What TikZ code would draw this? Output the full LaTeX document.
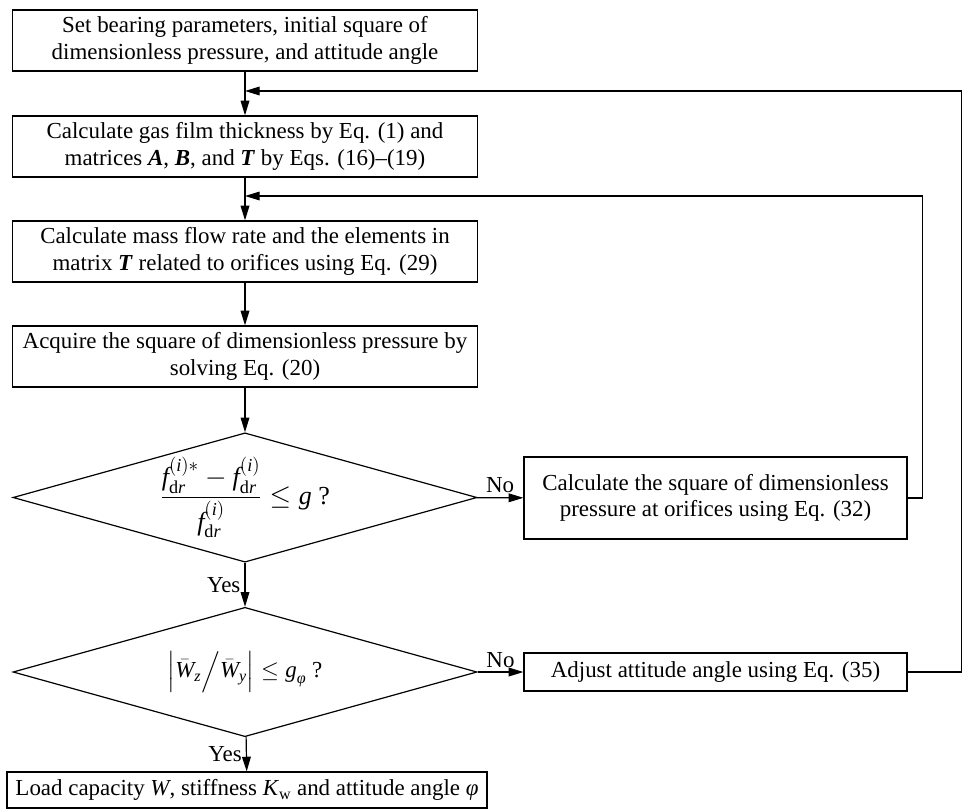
\documentclass[tikz,border=0pt]{standalone}
\usepackage{amsmath}
\usepackage{fontspec}
\setmainfont{Liberation Serif}
\usepackage{tikz}
\usetikzlibrary{arrows.meta,shapes.geometric,positioning,calc}
\tikzset{
  fcbase/.style={draw,line width=0.9pt,align=center,inner sep=2pt,
      font=\fontsize{17.2}{20}\selectfont},
  procbox/.style={fcbase,minimum width=348.75pt,minimum height=45.75pt},
  sidebox/.style={fcbase,minimum width=287.25pt},
  testbox/.style={fcbase,shape=diamond,inner sep=0pt,aspect=3.6,
      minimum width=348pt,minimum height=97pt},
  flow/.style={-{Triangle[length=11pt,width=6.5pt]},line width=0.9pt},
  yeslab/.style={left=2pt,font=\fontsize{17.2}{20}\selectfont,inner sep=1pt},
  nolab/.style={above=2pt,font=\fontsize{17.2}{20}\selectfont,inner sep=1pt},
}
\newcommand{\mvec}[1]{\textbf{\textit{#1}}}
\newcommand{\tv}[1]{\text{\itshape #1}}
\newcommand{\fdr}{\tv{f}_{\text{d}\tv{r}}}
\begin{document}
\begin{tikzpicture}[x=0.75pt,y=-0.75pt]
  \useasboundingbox (0,0) rectangle (962,810);

  \node[procbox] (set) at (245,40.5)
    {Set bearing parameters, initial square of\\dimensionless pressure, and attitude angle};
  \node[procbox] (film) at (245,146.5)
    {Calculate gas film thickness by Eq. (1) and\\matrices \mvec{A}, \mvec{B}, and \mvec{T} by Eqs. (16)--(19)};
  \node[procbox] (mass) at (245,251.5)
    {Calculate mass flow rate and the elements in\\matrix \mvec{T} related to orifices using Eq. (29)};
  \node[procbox] (solve) at (245,356.5)
    {Acquire the square of dimensionless pressure by\\solving Eq. (20)};
  \node[testbox,font=\fontsize{19.5}{22}\selectfont] (chkf) at (245,497.5)
    {$\dfrac{\fdr^{(\tv{i})*}-\fdr^{(\tv{i})}}{\fdr^{(\tv{i})}}\le \tv{g}$ ?};
  \node[sidebox,minimum height=61.5pt] (orif) at (715.5,498)
    {Calculate the square of dimensionless\\pressure at orifices using Eq. (32)};
  \node[testbox] (chkw) at (245,672)
    {$\Bigl|\bar{\tv{W}}_{\tv{z}}\Big/\bar{\tv{W}}_{\tv{y}}\Bigr|\le \tv{g}_{\tv{φ}}$ ?};
  \node[sidebox,minimum height=28.5pt] (adj) at (715.5,672)
    {Adjust attitude angle using Eq. (35)};
  \node[fcbase,minimum width=360pt,minimum height=27pt] (load) at (247,790)
    {Load capacity \textit{W}, stiffness \textit{K}$_{\text{w}}$ and attitude angle \textit{φ}};

  \coordinate (back1) at (245,91);
  \coordinate (back2) at (245,196);

  \draw[flow] (set) -- (film);
  \draw[flow] (film) -- (mass);
  \draw[flow] (mass) -- (solve);
  \draw[flow] (solve) -- (chkf);
  \draw[flow] (chkf) -- node[yeslab]{Yes} (chkw);
  \draw[flow] (chkw) -- node[yeslab]{Yes} (load);
  \draw[flow] (chkf) -- node[nolab]{No} (orif);
  \draw[flow] (chkw) -- node[nolab]{No} (adj);
  \draw[flow] (orif.east) -- ++(15,0) |- (back2);
  \draw[flow] (adj.east) -- ++(54,0) |- (back1);
\end{tikzpicture}
\end{document}
